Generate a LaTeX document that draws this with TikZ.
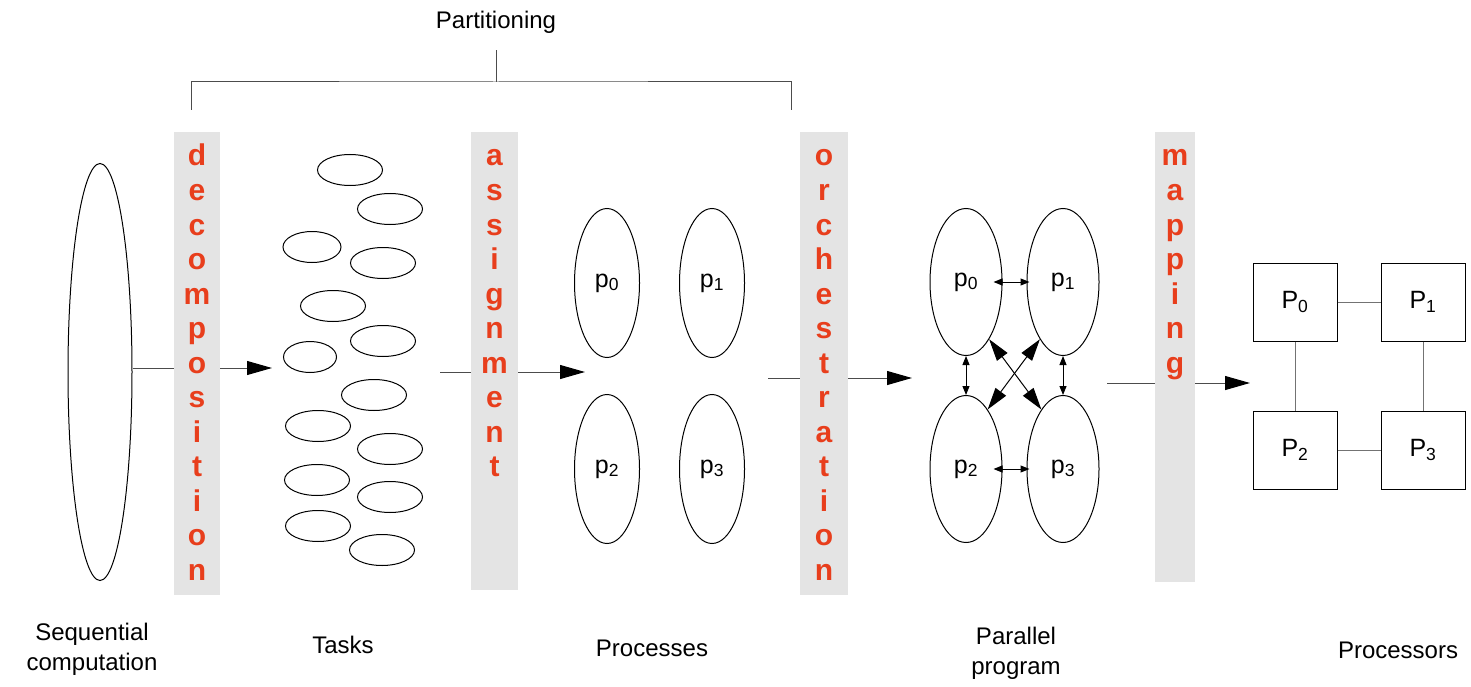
\documentclass[tikz,border=0pt]{standalone}
\usepackage{fontspec}
\setmainfont{Liberation Sans}
\usetikzlibrary{shapes.geometric, arrows.meta}
\definecolor{stagered}{RGB}{232,62,28}
\definecolor{bargray}{RGB}{228,228,228}
\tikzstyle{stagebar} = [rectangle, fill=bargray, inner sep=0pt]
\tikzstyle{letter} = [anchor=base, inner sep=0pt, text=stagered, font=\fontsize{30}{34}\selectfont\bfseries]
\tikzstyle{stagecaption} = [align=center, inner sep=0pt, font=\fontsize{24}{30}\selectfont]
\tikzstyle{task} = [ellipse, draw, line width=1pt, inner sep=0pt, minimum height=31pt]
\tikzstyle{proc} = [ellipse, draw, line width=1pt, inner sep=0pt, minimum width=65pt, minimum height=149pt, font=\fontsize{25}{28}\selectfont]
\tikzstyle{cpu} = [rectangle, draw, line width=1pt, minimum width=84pt, minimum height=78pt, font=\fontsize{25}{28}\selectfont]
\tikzstyle{arrow} = [line width=1pt, draw=black!70, -{Triangle[length=25pt,width=14pt,color=black]}]
\tikzstyle{msg} = [line width=1pt, {Triangle[length=9pt,width=7pt]}-{Triangle[length=9pt,width=7pt]}]
\tikzstyle{bigmsg} = [line width=1pt, {Triangle[length=22pt,width=13pt]}-{Triangle[length=22pt,width=13pt]}]
\tikzstyle{link} = [line width=1pt, draw=black!55]
\tikzstyle{bracket} = [line width=1pt, draw=black!70]

\begin{document}
\begin{tikzpicture}[x=1pt, y=-1pt]
\useasboundingbox (0,0) rectangle (1471,687);

% sequential computation
\node (seq) [ellipse, draw, line width=1pt, minimum width=64pt, minimum height=417pt] at (100,372) {};

% tasks
\foreach \x/\y/\w [count=\i] in {350/170/65, 390/209/65, 312/247/58, 383/263/65, 333/306/65, 383/341/65, 310/357/53,
    374/395/65, 318/426/65, 390/449/65, 317/480/65, 390/497/65, 318/526/65, 382/550/65}
  \node (task\i) [task, minimum width=\w pt] at (\x,\y) {};

% processes
\node (proc0) [proc] at (607,283) {p\textsubscript{0}};
\node (proc1) [proc] at (712,283) {p\textsubscript{1}};
\node (proc2) [proc] at (607,469) {p\textsubscript{2}};
\node (proc3) [proc] at (712,469) {p\textsubscript{3}};

% parallel program
\node (par0) [proc, minimum width=72pt, minimum height=147pt] at (966,282) {p\textsubscript{0}\hspace{8pt}};
\node (par1) [proc, minimum width=72pt, minimum height=147pt] at (1063,282) {p\textsubscript{1}};
\node (par2) [proc, minimum width=72pt, minimum height=147pt] at (966,469) {p\textsubscript{2}\hspace{8pt}};
\node (par3) [proc, minimum width=72pt, minimum height=147pt] at (1063,469) {p\textsubscript{3}};

\draw [msg, shorten <=-9pt, shorten >=-3pt] (par0.east) -- (par1.west);
\draw [msg, shorten <=-9pt, shorten >=-3pt] (par2.east) -- (par3.west);
\draw [msg] (par0.south) -- (par2.north);
\draw [msg] (par1.south) -- (par3.north);
\draw [bigmsg] (par0.-68) -- (par3.110);
\draw [bigmsg] (par1.-112) -- (par2.70);

% processors
\node (cpu0) [cpu] at (1295,302) {P\textsubscript{0}};
\node (cpu1) [cpu] at (1423,302) {P\textsubscript{1}};
\node (cpu2) [cpu] at (1295,450) {P\textsubscript{2}};
\node (cpu3) [cpu] at (1423,450) {P\textsubscript{3}};

\draw [link] (cpu0) -- (cpu1);
\draw [link] (cpu2) -- (cpu3);
\draw [link] (cpu0) -- (cpu2);
\draw [link] (cpu1) -- (cpu3);

% flow between stages
\coordinate (tasksin) at (272,368);
\coordinate (tasksout) at (440,372);
\coordinate (procin) at (585,372);
\coordinate (procout) at (768,378);
\coordinate (parin) at (912,378);
\coordinate (parout) at (1107,383);
\coordinate (cpuin) at (1250,383);

\draw [arrow] (seq.east |- tasksin) -- (tasksin);
\draw [arrow] (tasksout) -- (procin);
\draw [arrow] (procout) -- (parin);
\draw [arrow] (parout) -- (cpuin);

% stage bars
\node (decomp) [stagebar, minimum width=46pt, minimum height=463pt] at (197,363.5) {};
\node (assign) [stagebar, minimum width=47pt, minimum height=458pt] at (494.5,361) {};
\node (orch) [stagebar, minimum width=48pt, minimum height=463pt] at (824,363.5) {};
\node (mapping) [stagebar, minimum width=40pt, minimum height=450pt] at (1175,357) {};

\foreach \l [count=\i] in {d,e,c,o,m,p,o,s,i,t,i,o,n}
  \node (decomp\i) [letter] at (197,166+34.5*\i-34.5) {\l};
\foreach \l [count=\i] in {a,s,s,i,g,n,m,e,n,t}
  \node (assign\i) [letter] at (494.5,166+34.5*\i-34.5) {\l};
\foreach \l [count=\i] in {o,r,c,h,e,s,t,r,a,t,i,o,n}
  \node (orch\i) [letter] at (824,166+34.5*\i-34.5) {\l};
\foreach \l [count=\i] in {m,a,p,p,i,n,g}
  \node (mapping\i) [letter] at (1175,166+34.5*\i-34.5) {\l};

% partitioning bracket
\node (part) [stagecaption] at (496,22) {Partitioning};
\coordinate (brL) at (191,110);
\coordinate (brR) at (791,110);
\draw [bracket] (brL) |- (part |- 0,82) -| (brR);
\draw [bracket] (part |- 0,82) -- (part |- 0,50);

% captions
\node (seqlabel) [stagecaption] at (92,649) {Sequential\\computation};
\node (taskslabel) [stagecaption] at (343,645) {Tasks};
\node (proclabel) [stagecaption] at (652,648) {Processes};
\node (parlabel) [stagecaption] at (1016,653) {Parallel\\program};
\node (cpulabel) [stagecaption] at (1398,650) {Processors};

\end{tikzpicture}
\end{document}
